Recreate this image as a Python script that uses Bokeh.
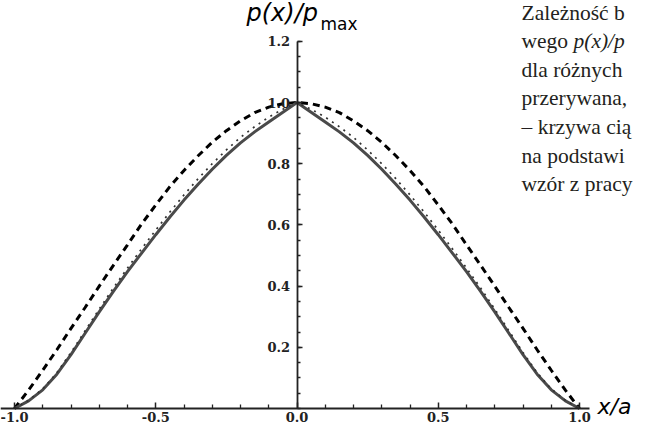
from bokeh.plotting import figure
from bokeh.models import Range1d, LinearAxis, FixedTicker, Label
from bokeh.embed import file_html
from bokeh.resources import INLINE

# ---- data (x/a >= 0, curves are symmetric) ----
x_half = [0.0, 0.05, 0.10, 0.15, 0.20, 0.25, 0.30, 0.35, 0.40, 0.45, 0.50,
          0.55, 0.60, 0.65, 0.70, 0.75, 0.80, 0.85, 0.90, 0.95, 1.0]
dashed_half = [1.000, 0.996, 0.985, 0.967, 0.940, 0.908, 0.870, 0.826, 0.778, 0.725, 0.665,
               0.603, 0.535, 0.468, 0.400, 0.330, 0.262, 0.192, 0.125, 0.060, 0.0]
dotted_half = [1.000, 0.978, 0.952, 0.921, 0.886, 0.845, 0.800, 0.751, 0.698, 0.642, 0.583,
               0.522, 0.459, 0.394, 0.325, 0.254, 0.183, 0.117, 0.064, 0.027, 0.0]
solid_half = [1.000, 0.968, 0.936, 0.904, 0.868, 0.827, 0.782, 0.733, 0.681, 0.626, 0.568,
              0.508, 0.447, 0.383, 0.316, 0.246, 0.176, 0.112, 0.061, 0.025, 0.0]

x_ticks = [-1.0, -0.5, 0.0, 0.5, 1.0]
x_tick_labels = ["-1.0", "-0.5", "0.0", "0.5", "1.0"]
y_ticks = [0.2, 0.4, 0.6, 0.8, 1.0, 1.2]
y_tick_labels = ["0.2", "0.4", "0.6", "0.8", "1.0", "1.2"]

caption_lines = ["Zależność b", None, "dla różnych", "przerywana,",
                 "– krzywa cią", "na podstawi", "wzór z pracy"]


def mirror(xs, ys):
    xf = [-v for v in reversed(xs[1:])] + list(xs)
    yf = list(reversed(ys[1:])) + list(ys)
    return xf, yf


# pixel mapping helpers for annotation placement (page px -> data)
X0, XS = 22.0, 282.5     # page px of x=-1, px per unit
Y0, YS = 416.0, 306.0    # page px of y=0, px per unit


def dx(px):
    return (px - X0) / XS - 1.0


def dy(py):
    return (Y0 - py) / YS


p = figure(width=635, height=428, output_backend="svg", toolbar_location=None,
           x_axis_type=None, y_axis_type=None,
           x_range=Range1d(dx(8), dx(643)), y_range=Range1d(dy(436), dy(8)),
           min_border=0)
p.outline_line_color = None
p.xgrid.visible = False
p.ygrid.visible = False
p.background_fill_color = "white"

# curves
xd, yd = mirror(x_half, dashed_half)
p.line(xd, yd, line_color="black", line_width=3, line_dash="7 5")
xs, ys = mirror(x_half, solid_half)
p.line(xs, ys, line_color="#4a4a4a", line_width=3)
xo, yo = mirror(x_half, dotted_half)
p.line(xo, yo, line_color="#333333", line_width=1.7, line_dash="2 5")

# axes
x_minor = [round(-1.0 + 0.1 * i, 2) for i in range(21)]
x_minor = [v for v in x_minor if v not in x_ticks]
y_minor = [round(0.05 * i, 2) for i in range(25)]

xaxis = LinearAxis(fixed_location=0,
                   ticker=FixedTicker(ticks=x_ticks, minor_ticks=x_minor),
                   bounds=(-1.05, 1.035),
                   major_label_overrides={t: l for t, l in zip(x_ticks, x_tick_labels)})
yaxis = LinearAxis(fixed_location=0,
                   ticker=FixedTicker(ticks=y_ticks, minor_ticks=y_minor),
                   bounds=(0, 1.2),
                   major_label_overrides={t: l for t, l in zip(y_ticks, y_tick_labels)})
for ax in (xaxis, yaxis):
    ax.axis_line_color = "#222222"
    ax.axis_line_width = 1.8
    ax.major_tick_line_color = "#222222"
    ax.minor_tick_line_color = "#222222"
    ax.major_tick_line_width = 1.5
    ax.minor_tick_line_width = 1.3
    ax.major_tick_out = 0
    ax.minor_tick_out = 0
    ax.major_label_text_font = "DejaVu Serif"
    ax.major_label_text_font_style = "bold"
    ax.major_label_text_font_size = "13px"
    ax.major_label_text_color = "#222222"
xaxis.major_tick_in = 6
xaxis.minor_tick_in = 4
xaxis.major_label_standoff = 3
yaxis.major_tick_in = 5
yaxis.minor_tick_in = 3
yaxis.major_label_standoff = 7
p.add_layout(xaxis, "below")
p.add_layout(yaxis, "left")

# axis titles
p.add_layout(Label(x=dx(254), y=dy(34), text="p(x)/p", text_font="DejaVu Sans",
                   text_font_style="italic", text_font_size="24px", text_color="black"))
p.add_layout(Label(x=dx(328), y=dy(41), text="max", text_font="DejaVu Sans",
                   text_font_size="17px", text_color="black"))
p.add_layout(Label(x=dx(605), y=dy(426), text="x/a", text_font="DejaVu Sans",
                   text_font_style="italic", text_font_size="22px", text_color="black"))

# caption text on the right
base0 = 32
step = 28.6
fs = "21.5px"
for i, line in enumerate(caption_lines):
    b = base0 + step * i
    if line is None:
        p.add_layout(Label(x=dx(529), y=dy(b), text="wego ", text_font="Liberation Serif",
                           text_font_size=fs, text_color="#231f20"))
        p.add_layout(Label(x=dx(581), y=dy(b), text="p(x)/p", text_font="Liberation Serif",
                           text_font_style="italic", text_font_size=fs, text_color="#231f20"))
    else:
        p.add_layout(Label(x=dx(529), y=dy(b), text=line, text_font="Liberation Serif",
                           text_font_size=fs, text_color="#231f20"))

open("out.html", "w").write(file_html(p, INLINE))
